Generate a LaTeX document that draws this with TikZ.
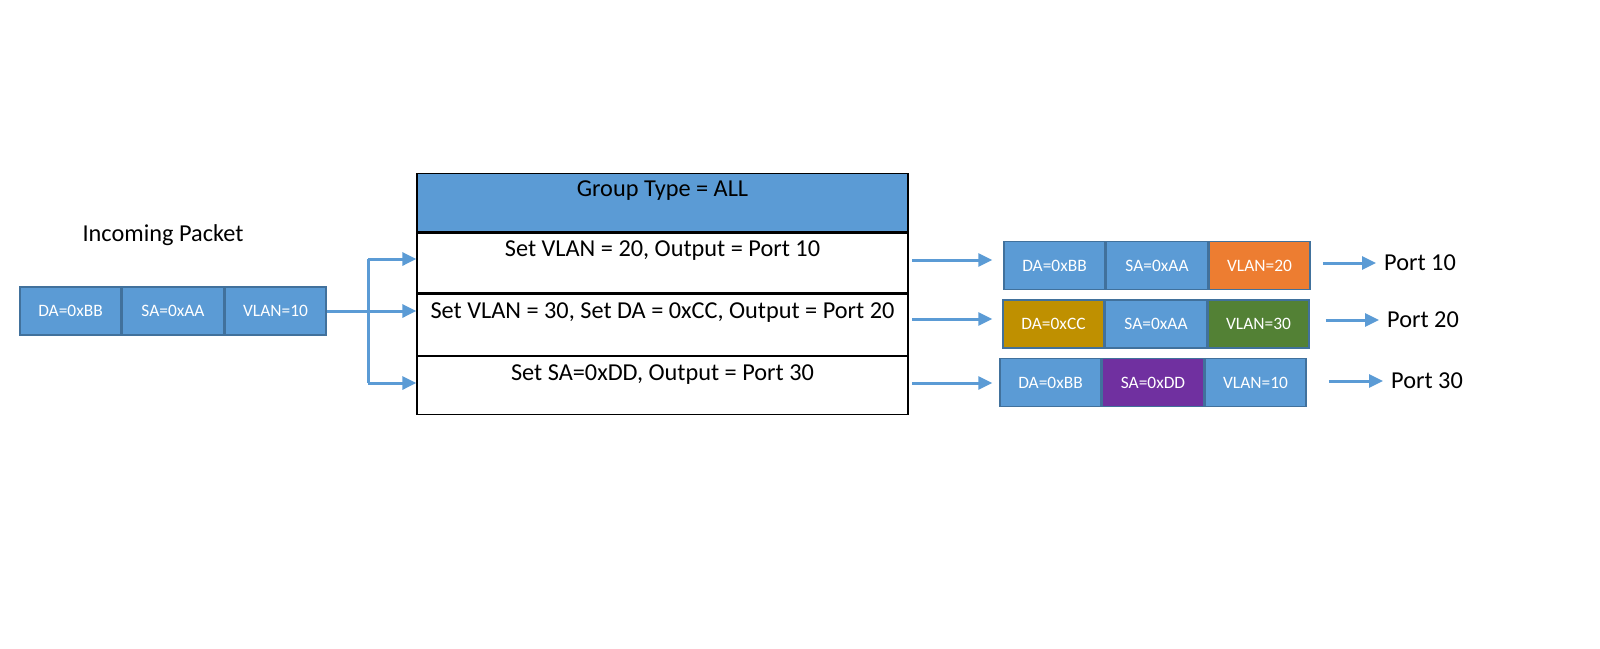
\documentclass[tikz,border=0pt]{standalone}
\usepackage{fontspec}
\setmainfont{Carlito}
\usetikzlibrary{positioning,arrows.meta}
\definecolor{cellblue}{HTML}{5B9BD5}
\definecolor{cellline}{HTML}{41719C}
\definecolor{vlanorange}{HTML}{ED7D31}
\definecolor{dagold}{HTML}{BF9000}
\definecolor{vlangreen}{HTML}{538135}
\definecolor{sapurple}{HTML}{7030A0}
\tikzset{
  cell/.style={draw=cellline, line width=1.5pt, fill=cellblue, text=white,
    minimum width=101pt, minimum height=48pt, inner sep=0pt,
    font=\fontsize{17.4}{20}\selectfont},
  bigtext/.style={font=\fontsize{24.3}{28}\selectfont},
  grouphead/.style={bigtext, draw=black, line width=1.3pt, fill=cellblue,
    minimum width=491pt, inner sep=0pt, text height=23pt, text depth=35pt},
  bucket/.style={bigtext, draw=black, line width=1.3pt, fill=white,
    minimum width=491pt, inner sep=0pt, text height=24pt},
  port/.style={bigtext, inner sep=0pt},
  flowline/.style={draw=cellblue, line width=3pt},
  flow/.style={flowline, -{Triangle[length=14pt,width=13pt]}}
}
\begin{document}
\begin{tikzpicture}[x=1pt,y=-1pt]
    \useasboundingbox (0,0) rectangle (1600,648);

    % incoming packet
    \node[bigtext] (intitle) at (163,235) {Incoming Packet};
    \node[cell] (in1) at (70.5,311) {DA=0xBB};
    \node[cell, right=0pt of in1] (in2) {SA=0xAA};
    \node[cell, right=0pt of in2] (in3) {VLAN=10};

    % group table
    \node[grouphead, anchor=north] (head) at (662.5,173) {Group Type = ALL};
    \node[bucket, text depth=36pt, below=0pt of head] (b1) {Set VLAN = 20, Output = Port 10};
    \node[bucket, text depth=37pt, below=0pt of b1] (b2) {Set VLAN = 30, Set DA = 0xCC, Output = Port 20};
    \node[bucket, text depth=34pt, below=0pt of b2] (b3) {Set SA=0xDD, Output = Port 30};

    % outgoing packets
    \node[cell] (o1a) at (1054.5,265.5) {DA=0xBB};
    \node[cell, right=0pt of o1a] (o1b) {SA=0xAA};
    \node[cell, fill=vlanorange, right=0pt of o1b] (o1c) {VLAN=20};
    \node[cell, fill=dagold] (o2a) at (1053.5,324) {DA=0xCC};
    \node[cell, right=0pt of o2a] (o2b) {SA=0xAA};
    \node[cell, fill=vlangreen, right=0pt of o2b] (o2c) {VLAN=30};
    \node[cell] (o3a) at (1050.5,382.5) {DA=0xBB};
    \node[cell, fill=sapurple, right=0pt of o3a] (o3b) {SA=0xDD};
    \node[cell, right=0pt of o3b] (o3c) {VLAN=10};

    \node[port, anchor=west] (port1) at (1384,263) {Port 10};
    \node[port, anchor=west] (port2) at (1387,320) {Port 20};
    \node[port, anchor=west] (port3) at (1391,381) {Port 30};

    % arrows into the buckets
    \coordinate (splittop) at (368,259);
    \coordinate (splitbot) at (368,383);
    \draw[flowline] (splittop) -- (splitbot);
    \draw[flow] (in3.east) -- (in3.east -| b2.west);
    \draw[flow] (splittop) -- (splittop -| b1.west);
    \draw[flow] (splitbot) -- (splitbot -| b3.west);

    % arrows out of the buckets
    \coordinate (out1) at (912,260);
    \coordinate (out2) at (912,319);
    \coordinate (out3) at (912,383);
    \draw[flow] (out1) -- ([xshift=-11pt]out1 -| o1a.west);
    \draw[flow] (out2) -- ([xshift=-10pt]out2 -| o2a.west);
    \draw[flow] (out3) -- ([xshift=-7pt]out3 -| o3a.west);

    % arrows to the ports
    \draw[flow] ([xshift=12pt]port1.west -| o1c.east) -- ([xshift=-8pt]port1.west);
    \draw[flow] ([xshift=16pt]port2.west -| o2c.east) -- ([xshift=-8pt]port2.west);
    \draw[flow] ([xshift=22pt]port3.west -| o3c.east) -- ([xshift=-8pt]port3.west);
\end{tikzpicture}
\end{document}
